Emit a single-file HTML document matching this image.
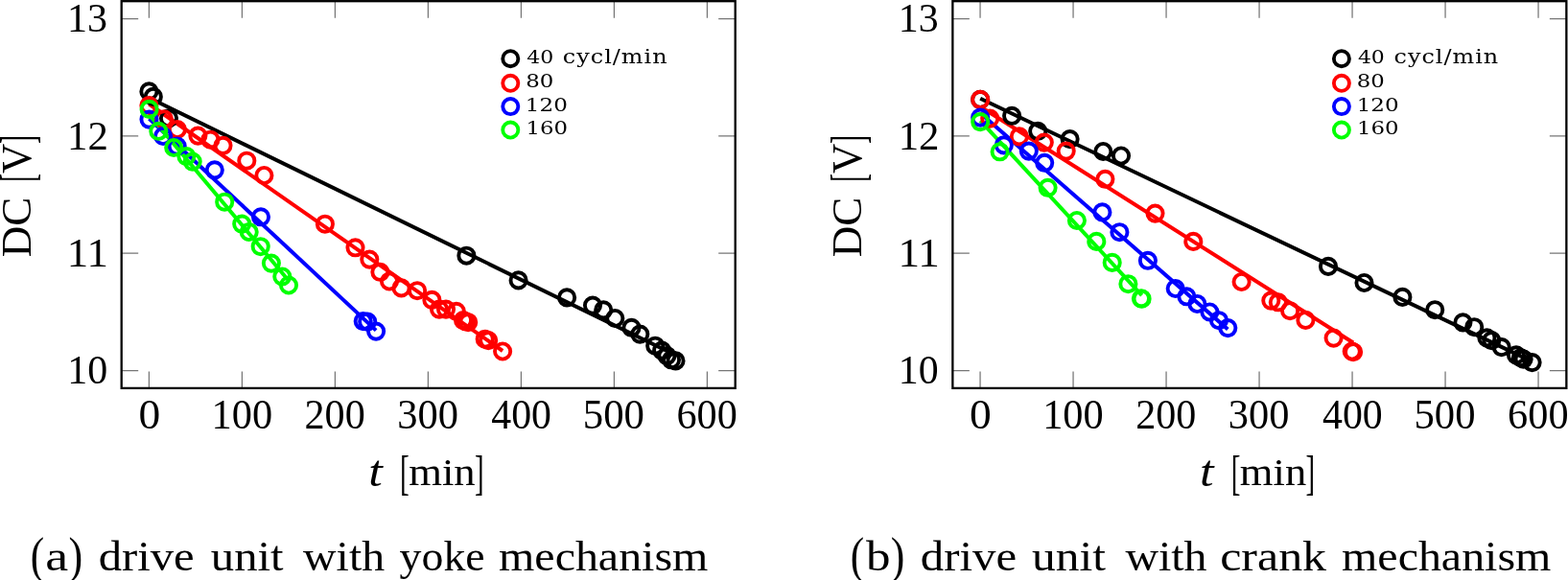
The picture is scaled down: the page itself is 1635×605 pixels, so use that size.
<!DOCTYPE html>
<html><head><meta charset="utf-8"><title>DC voltage vs t</title>
<style>html,body{margin:0;padding:0;background:#fff;}svg{display:block;}text{font-family:'Liberation Serif', serif;fill:#000;}</style></head><body>
<svg width="1635" height="605" viewBox="0 0 1635 605">
<rect width="1635" height="605" fill="#fff"/>
<g>
<path d="M155.40 1.20v17.50 M155.40 404.90v-17.50 M252.40 1.20v17.50 M252.40 404.90v-17.50 M349.40 1.20v17.50 M349.40 404.90v-17.50 M446.40 1.20v17.50 M446.40 404.90v-17.50 M543.40 1.20v17.50 M543.40 404.90v-17.50 M640.40 1.20v17.50 M640.40 404.90v-17.50 M737.40 1.20v17.50 M737.40 404.90v-17.50 M126.70 19.60h17.50 M766.70 19.60h-17.50 M126.70 141.90h17.50 M766.70 141.90h-17.50 M126.70 264.20h17.50 M766.70 264.20h-17.50 M126.70 386.50h17.50 M766.70 386.50h-17.50" stroke="#767676" stroke-width="1.25" fill="none"/>
<line x1="155.40" y1="101.96" x2="704.50" y2="370.50" stroke="#000" stroke-width="4.0"/>
<line x1="155.40" y1="108.50" x2="524.10" y2="366.00" stroke="#f00" stroke-width="4.0"/>
<line x1="155.50" y1="123.70" x2="392.10" y2="344.60" stroke="#00f" stroke-width="4.0"/>
<line x1="155.60" y1="119.70" x2="301.00" y2="292.70" stroke="#0f0" stroke-width="4.0"/>
<g stroke="#000" fill="none" stroke-width="3.9">
<circle cx="155.4" cy="95.4" r="8.1"/>
<circle cx="159.8" cy="100.9" r="8.1"/>
<circle cx="176.0" cy="123.3" r="8.1"/>
<circle cx="486.4" cy="266.7" r="8.1"/>
<circle cx="540.6" cy="292.4" r="8.1"/>
<circle cx="591.1" cy="310.4" r="8.1"/>
<circle cx="618.0" cy="318.6" r="8.1"/>
<circle cx="629.2" cy="323.3" r="8.1"/>
<circle cx="641.3" cy="332.0" r="8.1"/>
<circle cx="658.5" cy="341.8" r="8.1"/>
<circle cx="667.3" cy="348.6" r="8.1"/>
<circle cx="683.2" cy="360.7" r="8.1"/>
<circle cx="690.1" cy="365.6" r="8.1"/>
<circle cx="695.4" cy="371.1" r="8.1"/>
<circle cx="700.0" cy="375.3" r="8.1"/>
<circle cx="704.5" cy="376.4" r="8.1"/>
</g>
<g stroke="#f00" fill="none" stroke-width="3.9">
<circle cx="155.4" cy="110.0" r="8.1"/>
<circle cx="171.0" cy="124.4" r="8.1"/>
<circle cx="184.9" cy="135.0" r="8.1"/>
<circle cx="206.4" cy="141.6" r="8.1"/>
<circle cx="219.4" cy="145.7" r="8.1"/>
<circle cx="232.5" cy="151.8" r="8.1"/>
<circle cx="257.3" cy="167.7" r="8.1"/>
<circle cx="275.4" cy="183.0" r="8.1"/>
<circle cx="338.9" cy="233.7" r="8.1"/>
<circle cx="370.5" cy="258.3" r="8.1"/>
<circle cx="385.3" cy="270.6" r="8.1"/>
<circle cx="396.4" cy="283.8" r="8.1"/>
<circle cx="406.0" cy="293.5" r="8.1"/>
<circle cx="418.5" cy="300.4" r="8.1"/>
<circle cx="435.1" cy="303.2" r="8.1"/>
<circle cx="450.4" cy="312.9" r="8.1"/>
<circle cx="458.0" cy="322.6" r="8.1"/>
<circle cx="465.0" cy="322.6" r="8.1"/>
<circle cx="475.8" cy="324.8" r="8.1"/>
<circle cx="483.0" cy="334.1" r="8.1"/>
<circle cx="485.6" cy="335.3" r="8.1"/>
<circle cx="488.2" cy="336.2" r="8.1"/>
<circle cx="505.7" cy="353.7" r="8.1"/>
<circle cx="509.2" cy="355.1" r="8.1"/>
<circle cx="524.1" cy="366.5" r="8.1"/>
</g>
<g stroke="#00f" fill="none" stroke-width="3.9">
<circle cx="155.5" cy="124.6" r="8.1"/>
<circle cx="170.1" cy="142.0" r="8.1"/>
<circle cx="184.7" cy="152.6" r="8.1"/>
<circle cx="223.8" cy="177.3" r="8.1"/>
<circle cx="272.0" cy="226.3" r="8.1"/>
<circle cx="378.7" cy="335.1" r="8.1"/>
<circle cx="383.2" cy="335.6" r="8.1"/>
<circle cx="392.1" cy="345.6" r="8.1"/>
</g>
<g stroke="#0f0" fill="none" stroke-width="3.9">
<circle cx="155.6" cy="113.9" r="8.1"/>
<circle cx="165.3" cy="136.8" r="8.1"/>
<circle cx="181.2" cy="154.0" r="8.1"/>
<circle cx="194.4" cy="163.1" r="8.1"/>
<circle cx="200.7" cy="168.6" r="8.1"/>
<circle cx="234.2" cy="210.7" r="8.1"/>
<circle cx="252.2" cy="233.6" r="8.1"/>
<circle cx="259.7" cy="242.0" r="8.1"/>
<circle cx="271.7" cy="257.2" r="8.1"/>
<circle cx="282.9" cy="274.6" r="8.1"/>
<circle cx="294.3" cy="288.5" r="8.1"/>
<circle cx="301.0" cy="297.5" r="8.1"/>
</g>
<rect x="126.70" y="1.20" width="640.00" height="403.70" fill="none" stroke="#000" stroke-width="2.3"/>
<circle cx="532.3" cy="61.2" r="8.05" fill="none" stroke="#000" stroke-width="3.85"/>
<circle cx="532.3" cy="86.8" r="8.05" fill="none" stroke="#f00" stroke-width="3.85"/>
<circle cx="532.3" cy="111.1" r="8.05" fill="none" stroke="#00f" stroke-width="3.85"/>
<circle cx="532.3" cy="135.5" r="8.05" fill="none" stroke="#0f0" stroke-width="3.85"/>
</g>
<g>
<path d="M1022.05 1.20v17.50 M1022.05 404.90v-17.50 M1119.05 1.20v17.50 M1119.05 404.90v-17.50 M1216.05 1.20v17.50 M1216.05 404.90v-17.50 M1313.05 1.20v17.50 M1313.05 404.90v-17.50 M1410.05 1.20v17.50 M1410.05 404.90v-17.50 M1507.05 1.20v17.50 M1507.05 404.90v-17.50 M1604.05 1.20v17.50 M1604.05 404.90v-17.50 M993.35 19.60h17.50 M1633.35 19.60h-17.50 M993.35 141.90h17.50 M1633.35 141.90h-17.50 M993.35 264.20h17.50 M1633.35 264.20h-17.50 M993.35 386.50h17.50 M1633.35 386.50h-17.50" stroke="#767676" stroke-width="1.25" fill="none"/>
<line x1="1022.20" y1="102.80" x2="1597.60" y2="377.10" stroke="#000" stroke-width="4.0"/>
<line x1="1022.20" y1="111.30" x2="1411.10" y2="357.50" stroke="#f00" stroke-width="4.0"/>
<line x1="1022.20" y1="118.00" x2="1280.30" y2="343.50" stroke="#00f" stroke-width="4.0"/>
<line x1="1022.20" y1="125.80" x2="1190.60" y2="308.20" stroke="#0f0" stroke-width="4.0"/>
<g stroke="#000" fill="none" stroke-width="3.9">
<circle cx="1022.2" cy="103.9" r="8.1"/>
<circle cx="1055.1" cy="120.8" r="8.1"/>
<circle cx="1082.2" cy="136.8" r="8.1"/>
<circle cx="1115.6" cy="145.1" r="8.1"/>
<circle cx="1150.3" cy="158.0" r="8.1"/>
<circle cx="1169.0" cy="162.5" r="8.1"/>
<circle cx="1385.0" cy="277.9" r="8.1"/>
<circle cx="1422.5" cy="295.0" r="8.1"/>
<circle cx="1462.4" cy="309.9" r="8.1"/>
<circle cx="1496.2" cy="323.2" r="8.1"/>
<circle cx="1525.4" cy="336.4" r="8.1"/>
<circle cx="1537.2" cy="341.2" r="8.1"/>
<circle cx="1550.4" cy="352.4" r="8.1"/>
<circle cx="1555.3" cy="355.1" r="8.1"/>
<circle cx="1565.7" cy="362.1" r="8.1"/>
<circle cx="1581.0" cy="370.4" r="8.1"/>
<circle cx="1585.8" cy="373.2" r="8.1"/>
<circle cx="1588.6" cy="374.6" r="8.1"/>
<circle cx="1597.6" cy="378.1" r="8.1"/>
</g>
<g stroke="#f00" fill="none" stroke-width="3.9">
<circle cx="1022.2" cy="103.9" r="8.1"/>
<circle cx="1032.2" cy="123.6" r="8.1"/>
<circle cx="1062.8" cy="142.4" r="8.1"/>
<circle cx="1088.8" cy="148.6" r="8.1"/>
<circle cx="1111.7" cy="157.6" r="8.1"/>
<circle cx="1152.4" cy="186.8" r="8.1"/>
<circle cx="1204.5" cy="222.6" r="8.1"/>
<circle cx="1244.3" cy="251.9" r="8.1"/>
<circle cx="1294.6" cy="294.0" r="8.1"/>
<circle cx="1325.3" cy="313.6" r="8.1"/>
<circle cx="1332.8" cy="315.3" r="8.1"/>
<circle cx="1345.1" cy="324.2" r="8.1"/>
<circle cx="1361.4" cy="333.9" r="8.1"/>
<circle cx="1390.6" cy="352.6" r="8.1"/>
<circle cx="1409.7" cy="366.5" r="8.1"/>
<circle cx="1411.1" cy="367.2" r="8.1"/>
</g>
<g stroke="#00f" fill="none" stroke-width="3.9">
<circle cx="1022.2" cy="122.6" r="8.1"/>
<circle cx="1046.8" cy="151.4" r="8.1"/>
<circle cx="1072.8" cy="157.6" r="8.1"/>
<circle cx="1089.2" cy="169.8" r="8.1"/>
<circle cx="1149.4" cy="221.4" r="8.1"/>
<circle cx="1167.4" cy="242.2" r="8.1"/>
<circle cx="1196.9" cy="271.8" r="8.1"/>
<circle cx="1225.7" cy="301.0" r="8.1"/>
<circle cx="1237.4" cy="309.3" r="8.1"/>
<circle cx="1248.4" cy="317.0" r="8.1"/>
<circle cx="1261.4" cy="325.5" r="8.1"/>
<circle cx="1271.0" cy="334.2" r="8.1"/>
<circle cx="1280.3" cy="342.1" r="8.1"/>
</g>
<g stroke="#0f0" fill="none" stroke-width="3.9">
<circle cx="1022.2" cy="127.1" r="8.1"/>
<circle cx="1042.6" cy="158.3" r="8.1"/>
<circle cx="1092.6" cy="195.8" r="8.1"/>
<circle cx="1122.9" cy="230.0" r="8.1"/>
<circle cx="1143.3" cy="251.9" r="8.1"/>
<circle cx="1159.7" cy="273.9" r="8.1"/>
<circle cx="1176.4" cy="296.2" r="8.1"/>
<circle cx="1189.9" cy="311.3" r="8.1"/>
<circle cx="1190.6" cy="311.7" r="8.1"/>
</g>
<rect x="993.35" y="1.20" width="640.00" height="403.70" fill="none" stroke="#000" stroke-width="2.3"/>
<circle cx="1398.9" cy="61.2" r="8.05" fill="none" stroke="#000" stroke-width="3.85"/>
<circle cx="1398.9" cy="86.8" r="8.05" fill="none" stroke="#f00" stroke-width="3.85"/>
<circle cx="1398.9" cy="111.1" r="8.05" fill="none" stroke="#00f" stroke-width="3.85"/>
<circle cx="1398.9" cy="135.5" r="8.05" fill="none" stroke="#0f0" stroke-width="3.85"/>
</g>
<text><tspan x="70.06" y="33.20" font-size="43.00" textLength="42.02" lengthAdjust="spacingAndGlyphs">13</tspan></text>
<text><tspan x="70.11" y="155.50" font-size="43.00" textLength="42.77" lengthAdjust="spacingAndGlyphs">12</tspan></text>
<text><tspan x="69.80" y="277.80" font-size="43.00" textLength="43.18" lengthAdjust="spacingAndGlyphs">11</tspan></text>
<text><tspan x="70.18" y="400.10" font-size="43.00" textLength="41.95" lengthAdjust="spacingAndGlyphs">10</tspan></text>
<text><tspan x="144.41" y="447.30" font-size="44.20" textLength="22.71" lengthAdjust="spacingAndGlyphs">0</tspan></text>
<text><tspan x="220.56" y="447.30" font-size="44.20" textLength="63.56" lengthAdjust="spacingAndGlyphs">100</tspan></text>
<text><tspan x="317.51" y="447.30" font-size="44.20" textLength="63.24" lengthAdjust="spacingAndGlyphs">200</tspan></text>
<text><tspan x="414.13" y="447.30" font-size="44.20" textLength="63.76" lengthAdjust="spacingAndGlyphs">300</tspan></text>
<text><tspan x="512.31" y="447.30" font-size="44.20" textLength="62.69" lengthAdjust="spacingAndGlyphs">400</tspan></text>
<text><tspan x="607.76" y="447.30" font-size="44.20" textLength="64.18" lengthAdjust="spacingAndGlyphs">500</tspan></text>
<text><tspan x="705.50" y="447.30" font-size="44.20" textLength="63.28" lengthAdjust="spacingAndGlyphs">600</tspan></text>
<text><tspan x="384.37" y="506.80" font-size="46.90" textLength="14.56" lengthAdjust="spacingAndGlyphs" font-style="italic">t</tspan> <tspan x="417.07" y="509.50" font-size="50.90" textLength="9.77" lengthAdjust="spacingAndGlyphs">[</tspan><tspan x="426.22" y="505.80" font-size="40.00" textLength="69.42" lengthAdjust="spacingAndGlyphs">min</tspan><tspan x="494.92" y="509.50" font-size="50.90" textLength="9.61" lengthAdjust="spacingAndGlyphs">]</tspan></text>
<text transform="rotate(-90)"><tspan x="-268.25" y="31.80" font-size="43.50" textLength="62.72" lengthAdjust="spacingAndGlyphs">DC</tspan> <tspan x="-189.83" y="34.50" font-size="50.90" textLength="8.69" lengthAdjust="spacingAndGlyphs">[</tspan><tspan x="-181.10" y="31.80" font-size="43.50" textLength="31.28" lengthAdjust="spacingAndGlyphs">V</tspan><tspan x="-149.99" y="34.50" font-size="50.90" textLength="8.93" lengthAdjust="spacingAndGlyphs">]</tspan></text>
<text transform="scale(1.220,1)" style="font-family:'DejaVu Serif',serif"><tspan x="450.17" y="66.00" font-size="17.90" textLength="22.99" lengthAdjust="spacingAndGlyphs">40</tspan> <tspan x="481.02" y="66.00" font-size="19.60" textLength="89.12" lengthAdjust="spacing">cycl/min</tspan></text>
<text style="font-family:'DejaVu Serif',serif"><tspan x="548.21" y="91.00" font-size="17.90" textLength="29.12" lengthAdjust="spacingAndGlyphs">80</tspan></text>
<text style="font-family:'DejaVu Serif',serif"><tspan x="547.82" y="115.50" font-size="17.90" textLength="44.07" lengthAdjust="spacingAndGlyphs">120</tspan></text>
<text style="font-family:'DejaVu Serif',serif"><tspan x="548.41" y="139.70" font-size="17.90" textLength="43.57" lengthAdjust="spacingAndGlyphs">160</tspan></text>
<text><tspan x="31.87" y="596.80" font-size="52.70" textLength="14.40" lengthAdjust="spacingAndGlyphs">(</tspan><tspan x="47.16" y="594.50" font-size="45.00" textLength="23.90" lengthAdjust="spacingAndGlyphs">a</tspan><tspan x="71.47" y="596.80" font-size="52.70" textLength="14.71" lengthAdjust="spacingAndGlyphs">)</tspan> <tspan x="102.72" y="594.50" font-size="45.00" textLength="99.92" lengthAdjust="spacingAndGlyphs">drive</tspan> <tspan x="219.85" y="594.50" font-size="45.00" textLength="75.74" lengthAdjust="spacingAndGlyphs">unit</tspan> <tspan x="316.07" y="594.50" font-size="45.00" textLength="85.02" lengthAdjust="spacingAndGlyphs">with</tspan> <tspan x="416.64" y="594.50" font-size="45.00" textLength="89.03" lengthAdjust="spacingAndGlyphs">yoke</tspan> <tspan x="520.09" y="594.50" font-size="45.00" textLength="218.28" lengthAdjust="spacingAndGlyphs">mechanism</tspan></text>
<text><tspan x="936.82" y="33.20" font-size="43.00" textLength="41.85" lengthAdjust="spacingAndGlyphs">13</tspan></text>
<text><tspan x="936.67" y="155.50" font-size="43.00" textLength="42.83" lengthAdjust="spacingAndGlyphs">12</tspan></text>
<text><tspan x="936.46" y="277.80" font-size="43.00" textLength="43.37" lengthAdjust="spacingAndGlyphs">11</tspan></text>
<text><tspan x="936.81" y="400.10" font-size="43.00" textLength="41.83" lengthAdjust="spacingAndGlyphs">10</tspan></text>
<text><tspan x="1010.95" y="447.30" font-size="44.20" textLength="22.71" lengthAdjust="spacingAndGlyphs">0</tspan></text>
<text><tspan x="1087.13" y="447.30" font-size="44.20" textLength="63.52" lengthAdjust="spacingAndGlyphs">100</tspan></text>
<text><tspan x="1184.26" y="447.30" font-size="44.20" textLength="63.11" lengthAdjust="spacingAndGlyphs">200</tspan></text>
<text><tspan x="1280.85" y="447.30" font-size="44.20" textLength="63.54" lengthAdjust="spacingAndGlyphs">300</tspan></text>
<text><tspan x="1379.08" y="447.30" font-size="44.20" textLength="62.63" lengthAdjust="spacingAndGlyphs">400</tspan></text>
<text><tspan x="1474.55" y="447.30" font-size="44.20" textLength="63.96" lengthAdjust="spacingAndGlyphs">500</tspan></text>
<text><tspan x="1572.08" y="447.30" font-size="44.20" textLength="63.46" lengthAdjust="spacingAndGlyphs">600</tspan></text>
<text><tspan x="1250.99" y="506.80" font-size="46.90" textLength="14.57" lengthAdjust="spacingAndGlyphs" font-style="italic">t</tspan> <tspan x="1283.72" y="509.50" font-size="50.90" textLength="9.74" lengthAdjust="spacingAndGlyphs">[</tspan><tspan x="1292.86" y="505.80" font-size="40.00" textLength="69.32" lengthAdjust="spacingAndGlyphs">min</tspan><tspan x="1361.49" y="509.50" font-size="50.90" textLength="9.58" lengthAdjust="spacingAndGlyphs">]</tspan></text>
<text transform="rotate(-90)"><tspan x="-268.25" y="898.45" font-size="43.50" textLength="62.72" lengthAdjust="spacingAndGlyphs">DC</tspan> <tspan x="-189.83" y="901.15" font-size="50.90" textLength="8.69" lengthAdjust="spacingAndGlyphs">[</tspan><tspan x="-181.10" y="898.45" font-size="43.50" textLength="31.28" lengthAdjust="spacingAndGlyphs">V</tspan><tspan x="-149.99" y="901.15" font-size="50.90" textLength="8.93" lengthAdjust="spacingAndGlyphs">]</tspan></text>
<text transform="scale(1.220,1)" style="font-family:'DejaVu Serif',serif"><tspan x="1160.57" y="66.00" font-size="17.90" textLength="22.86" lengthAdjust="spacingAndGlyphs">40</tspan> <tspan x="1191.40" y="66.00" font-size="19.60" textLength="89.14" lengthAdjust="spacing">cycl/min</tspan></text>
<text style="font-family:'DejaVu Serif',serif"><tspan x="1414.85" y="91.00" font-size="17.90" textLength="28.99" lengthAdjust="spacingAndGlyphs">80</tspan></text>
<text style="font-family:'DejaVu Serif',serif"><tspan x="1414.67" y="115.50" font-size="17.90" textLength="44.05" lengthAdjust="spacingAndGlyphs">120</tspan></text>
<text style="font-family:'DejaVu Serif',serif"><tspan x="1415.02" y="139.70" font-size="17.90" textLength="43.65" lengthAdjust="spacingAndGlyphs">160</tspan></text>
<text><tspan x="886.87" y="596.80" font-size="52.70" textLength="14.40" lengthAdjust="spacingAndGlyphs">(</tspan><tspan x="903.13" y="594.50" font-size="45.00" textLength="25.46" lengthAdjust="spacingAndGlyphs">b</tspan><tspan x="928.84" y="596.80" font-size="52.70" textLength="14.59" lengthAdjust="spacingAndGlyphs">)</tspan> <tspan x="959.83" y="594.50" font-size="45.00" textLength="100.20" lengthAdjust="spacingAndGlyphs">drive</tspan> <tspan x="1076.08" y="594.50" font-size="45.00" textLength="76.88" lengthAdjust="spacingAndGlyphs">unit</tspan> <tspan x="1173.42" y="594.50" font-size="45.00" textLength="85.11" lengthAdjust="spacingAndGlyphs">with</tspan> <tspan x="1272.19" y="594.50" font-size="45.00" textLength="110.88" lengthAdjust="spacingAndGlyphs">crank</tspan> <tspan x="1399.09" y="594.50" font-size="45.00" textLength="218.28" lengthAdjust="spacingAndGlyphs">mechanism</tspan></text>
</svg></body></html>
